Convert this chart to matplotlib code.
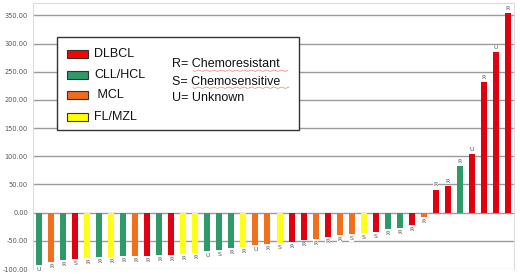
import matplotlib
matplotlib.use("Agg")
import matplotlib.pyplot as plt
from matplotlib.patches import Rectangle
import numpy as np

# ---- data ----
types = ["CLL/HCL", "MCL", "CLL/HCL", "DLBCL", "FL/MZL", "CLL/HCL", "FL/MZL", "CLL/HCL", "MCL", "DLBCL",
         "CLL/HCL", "DLBCL", "FL/MZL", "FL/MZL", "CLL/HCL", "CLL/HCL", "CLL/HCL", "FL/MZL", "MCL", "MCL",
         "FL/MZL", "DLBCL", "DLBCL", "MCL", "DLBCL", "MCL", "MCL", "FL/MZL", "DLBCL", "CLL/HCL",
         "CLL/HCL", "DLBCL", "MCL", "DLBCL", "DLBCL", "CLL/HCL", "DLBCL", "DLBCL", "DLBCL", "DLBCL"]
response = ["U", "R", "R", "S", "R", "R", "R", "R", "R", "R",
            "R", "R", "R", "R", "U", "S", "R", "R", "U", "R",
            "S", "R", "R", "R", "R", "R", "S", "S", "S", "R",
            "R", "R", "R", "R", "R", "R", "U", "R", "U", "R"]
values = [-93.4, -87.5, -84.0, -81.6, -79.8, -78.7, -78.0, -77.5, -76.9, -76.3,
          -75.7, -75.0, -74.0, -71.0, -68.0, -66.0, -63.0, -61.0, -57.4, -56.0,
          -54.0, -52.0, -49.0, -46.0, -42.6, -40.0, -38.0, -35.5, -33.7, -28.4,
          -27.2, -22.5, -7.7, 41.0, 48.0, 83.0, 104.0, 231.0, 285.0, 354.0]
yticks = [-100, -50, 0, 50, 100, 150, 200, 250, 300, 350]
legend_types = ["DLBCL", "CLL/HCL", "MCL", "FL/MZL"]
legend_labels = ["DLBCL", "CLL/HCL", " MCL", "FL/MZL"]
response_text = ["R= Chemoresistant", "S= Chemosensitive", "U= Unknown"]

bar_colors = {"DLBCL": "#E0000F", "CLL/HCL": "#2E9A6A", "MCL": "#F0701E", "FL/MZL": "#FFFF1A"}
leg_colors = {"DLBCL": "#FF0000", "CLL/HCL": "#2E9A6A", "MCL": "#F26B1D", "FL/MZL": "#FFFF00"}

W, H = 520, 279
fig = plt.figure(figsize=(W / 100, H / 100), dpi=100)
ax = fig.add_axes([33 / W, 1 - 269 / H, (514 - 33) / W, (269 - 3) / H])

x = np.arange(len(values))
ax.bar(x, values, width=0.5, color=[bar_colors[t] for t in types], zorder=3)

for xi, v, r in zip(x, values, response):
    if v < 0:
        ax.annotate(r, (xi, v), xytext=(0, -1.5), textcoords="offset points",
                    ha="center", va="top", fontsize=4.5, color="#555555", zorder=4,
                    bbox=dict(facecolor="white", edgecolor="none", pad=0.3))
    else:
        ax.annotate(r, (xi, v), xytext=(0, 1.5), textcoords="offset points",
                    ha="center", va="bottom", fontsize=4.5, color="#555555", zorder=4,
                    bbox=dict(facecolor="white", edgecolor="none", pad=0.3))

ax.set_xlim(-0.5, len(values) - 0.5)
ax.set_ylim(-100, 372)
ax.set_yticks(yticks)
ax.set_yticklabels([f"{t:.2f}" for t in yticks], fontsize=4.8, color="#555555")
ax.set_xticks([])
ax.tick_params(axis="y", length=0, pad=3.6)
ax.yaxis.grid(True, color="#9a9a9a", linewidth=1.0, zorder=0)
ax.get_ygridlines()[0].set_color("#e6e6e6")
ax.set_axisbelow(True)
for s in ["left", "right", "top"]:
    ax.spines[s].set_color("#dddddd")
    ax.spines[s].set_linewidth(0.8)
ax.spines["bottom"].set_visible(False)

# ---- legend box ----
def fx(px):
    return px / W

def fy(py):
    return 1 - py / H

box = Rectangle((fx(56.7), fy(130)), fx(299) - fx(56.7), fy(37.3) - fy(130),
                transform=fig.transFigure, facecolor="white", edgecolor="#333333",
                linewidth=1.0, zorder=10)
fig.patches.append(box)

rows = [54, 75, 95, 116.7]
for t, lab, ry in zip(legend_types, legend_labels, rows):
    p = Rectangle((fx(66.7), fy(ry + 4)), fx(88.3) - fx(66.7), fy(ry - 4) - fy(ry + 4),
                  transform=fig.transFigure, facecolor=leg_colors[t], edgecolor="#333333",
                  linewidth=0.8, zorder=11)
    fig.patches.append(p)
    fig.text(fx(94), fy(ry), lab, ha="left", va="center", fontsize=9,
             family="Liberation Sans", color="#111111", zorder=12)

for txt, ry in zip(response_text, [64.3, 81.7, 98.3]):
    fig.text(fx(171.7), fy(ry), txt, ha="left", va="center", fontsize=9,
             family="Liberation Sans", color="#111111", zorder=12)

# spell-check squiggles under two words
for ry, x0, x1 in [(70.7, 193, 288), (87.7, 193, 289)]:
    xs = np.linspace(x0, x1, 120)
    ys = ry + 0.6 * np.sin((xs - x0) / 1.2)
    fig.lines.append(plt.Line2D(fx(xs), fy(ys), transform=fig.transFigure,
                                color="#E88080", linewidth=0.5, zorder=12))

fig.savefig("out.png", dpi=100)
